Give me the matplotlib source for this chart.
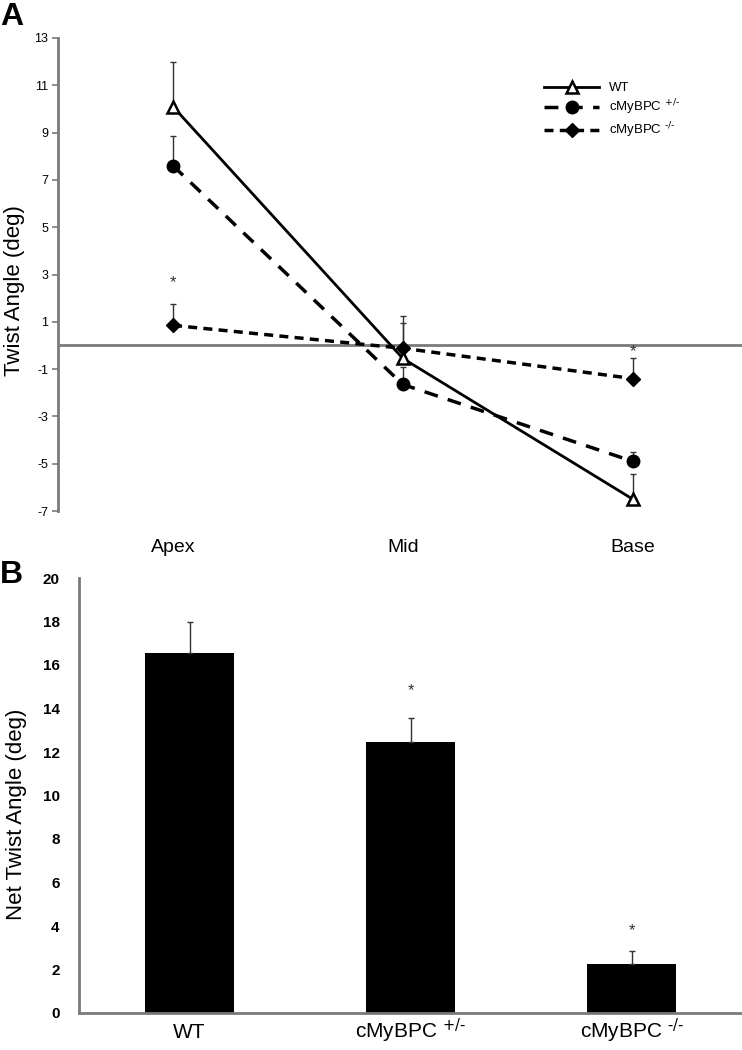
import matplotlib
matplotlib.use("Agg")
import matplotlib.pyplot as plt

plt.rcParams['font.family'] = ['Liberation Sans', 'DejaVu Sans']
plt.rcParams['mathtext.default'] = 'regular'

# Panel A: twist angle by region
regions = ["Apex", "Mid", "Base"]
wt = [10.1, -0.55, -6.5]
wt_err = [1.9, 1.8, 1.05]
het = [7.6, -1.65, -4.9]
het_err = [1.25, 0.75, 0.4]
ko = [0.85, -0.12, -1.4]
ko_err = [0.9, 1.05, 0.85]
ko_stars = [2.65, None, -0.25]

# Panel B: net twist angle
groups = ["WT", r"cMyBPC $^{\text{+/-}}$", r"cMyBPC $^{\text{-/-}}$"]
net = [16.55, 12.45, 2.25]
net_err = [1.45, 1.1, 0.6]
net_stars = [None, 14.8, 3.8]

series_labels = ["WT", r"cMyBPC $^{\text{+/-}}$", r"cMyBPC $^{\text{-/-}}$"]

fig = plt.figure(figsize=(7.42, 10.5), dpi=100)
axA = fig.add_axes([58 / 742, 1 - 511 / 1050, 684 / 742, 473 / 1050])
axB = fig.add_axes([79 / 742, 1 - 1013 / 1050, 663 / 742, 435 / 1050])

gray = '#7a7a7a'
x = list(range(len(regions)))

# ---- panel A ----
axA.axhline(0, color=gray, lw=2, zorder=1)
for vals, errs in [(wt, wt_err), (het, het_err), (ko, ko_err)]:
    axA.errorbar(x, vals, yerr=[[0] * 3, errs], fmt='none', ecolor='#333333',
                 elinewidth=1, capsize=2.5, zorder=2)
axA.plot(x, wt, color='black', lw=2, marker='^', ms=9, mfc='white',
         mec='black', mew=1.8, label=series_labels[0], zorder=4)
axA.plot(x, het, color='black', lw=2.5, ls=(0, (4, 3)), marker='o', ms=9,
         label=series_labels[1], zorder=3)
axA.plot(x, ko, color='black', lw=2.5, ls=(0, (2.6, 1.8)), marker='D', ms=7,
         label=series_labels[2], zorder=3)
for i, s in enumerate(ko_stars):
    if s is not None:
        axA.text(x[i], s, '*', ha='center', va='center', fontsize=12, color='#333333')

axA.set_xlim(-0.5, 2.475)
axA.set_ylim(-7, 13)
axA.set_yticks(range(-7, 14, 2))
axA.set_yticklabels([str(v) for v in range(-7, 14, 2)], fontsize=9)
axA.set_xticks(x)
axA.set_xticklabels(regions, fontsize=14)
axA.tick_params(axis='x', length=0, pad=20)
axA.tick_params(axis='y', length=4, width=1.2, color=gray, pad=3)
for sp in ['top', 'right', 'bottom']:
    axA.spines[sp].set_visible(False)
axA.spines['left'].set_color(gray)
axA.spines['left'].set_linewidth(2)
axA.set_ylabel("Twist Angle (deg)", fontsize=16)
axA.yaxis.set_label_coords(-0.048, 0.465)
axA.legend(loc='upper left', bbox_to_anchor=(544 / 742, 1 - 82 / 1050),
           bbox_transform=fig.transFigure, frameon=False, fontsize=9.5,
           handlelength=4.2, handletextpad=0.7, labelspacing=0.25,
           borderpad=0, borderaxespad=0)

# ---- panel B ----
xb = list(range(len(groups)))
axB.bar(xb, net, width=0.4, color='black', zorder=2)
axB.errorbar(xb, net, yerr=[[0] * 3, net_err], fmt='none', ecolor='#333333',
             elinewidth=1, capsize=2.5, zorder=3)
for i, s in enumerate(net_stars):
    if s is not None:
        axB.text(xb[i], s, '*', ha='center', va='center', fontsize=12, color='#333333')

axB.set_xlim(-0.5, 2.5)
axB.set_ylim(0, 20)
axB.set_yticks(range(0, 21, 2))
axB.set_yticklabels([str(v) for v in range(0, 21, 2)], fontsize=11, fontweight='bold')
axB.set_xticks(xb)
axB.set_xticklabels(groups, fontsize=15, va='baseline')
axB.tick_params(axis='x', length=0, pad=18)
axB.tick_params(axis='y', length=0, pad=14)
for sp in ['top', 'right']:
    axB.spines[sp].set_visible(False)
for sp in ['left', 'bottom']:
    axB.spines[sp].set_color(gray)
    axB.spines[sp].set_linewidth(2)
axB.set_ylabel("Net Twist Angle (deg)", fontsize=16)
axB.yaxis.set_label_coords(-0.078, 0.457)

fig.text(0, 1 - 2 / 1050, 'A', fontsize=23, fontweight='bold', ha='left', va='top')
fig.text(0, 1 - 560 / 1050, 'B', fontsize=23, fontweight='bold', ha='left', va='top')

fig.savefig('out.png', dpi=100)
